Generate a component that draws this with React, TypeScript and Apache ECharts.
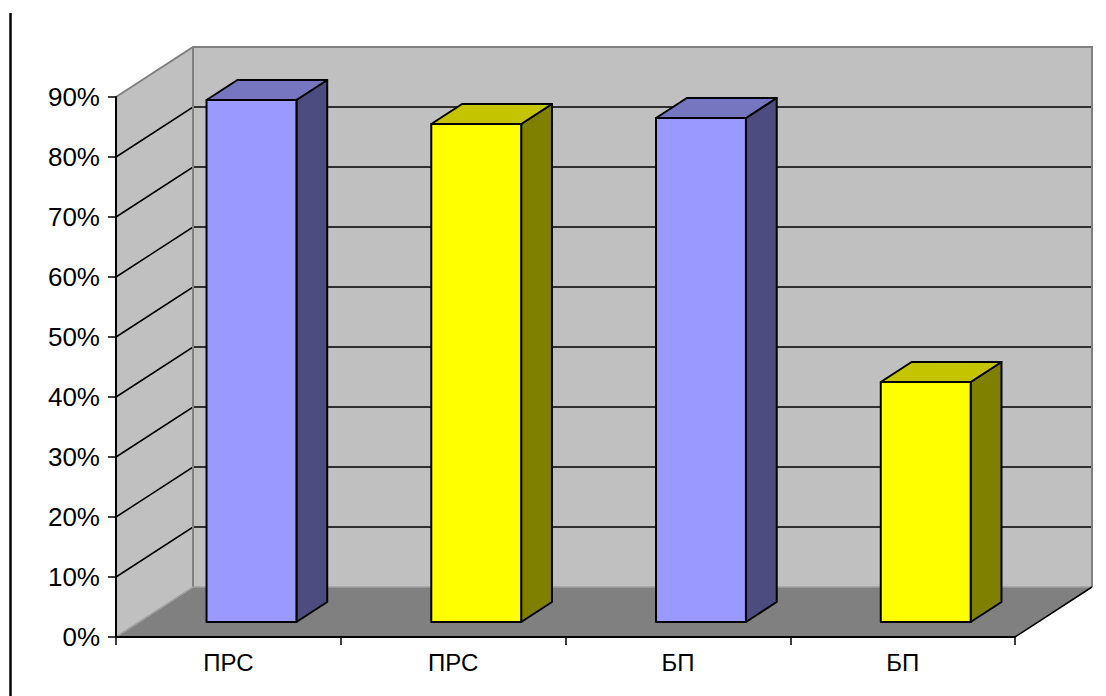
import React, { useEffect, useRef } from "react";
import * as echarts from "echarts";

const categories = ["ПРС", "ПРС", "БП", "БП"];
const values = [87, 83, 84, 40];
const faceColors = ["#9999FF", "#FFFF00", "#9999FF", "#FFFF00"];
const topColors = ["#7676C0", "#C4C400", "#7676C0", "#C4C400"];
const sideColors = ["#4C4C80", "#808000", "#4C4C80", "#808000"];
const yTicks = [0, 10, 20, 30, 40, 50, 60, 70, 80, 90];

// Depth of the 3D box (pixels) and where each column sits inside it.
const DX = 77;
const DY = 50;
const BAR_FRONT = 0.3;
const BAR_DEPTH = 0.4;
const BAR_WIDTH = 0.4;

const FONT = "'Liberation Sans', Arial, sans-serif";

export default function App() {
  const ref = useRef<HTMLDivElement>(null);

  useEffect(() => {
    if (!ref.current) return;
    const chart = echarts.init(ref.current, undefined, { renderer: "svg" });
    const yMax = yTicks[yTicks.length - 1];

    const frameRender = (params: any, api: any) => {
      const cs = params.coordSys;
      const x0 = cs.x;
      const x1 = cs.x + cs.width;
      const y0 = api.coord([0, 0])[1];
      const yT = api.coord([0, yMax])[1];
      const children: any[] = [];
      // side wall
      children.push({
        type: "polygon",
        shape: { points: [[x0, yT], [x0 + DX, yT - DY], [x0 + DX, y0 - DY], [x0, y0]] },
        style: { fill: "#C0C0C0", stroke: "none" },
      });
      // back wall
      children.push({
        type: "rect",
        shape: { x: x0 + DX, y: yT - DY, width: x1 - x0, height: y0 - yT },
        style: { fill: "#C0C0C0", stroke: "none" },
      });
      // floor
      children.push({
        type: "polygon",
        shape: { points: [[x0, y0], [x1, y0], [x1 + DX, y0 - DY], [x0 + DX, y0 - DY]] },
        style: { fill: "#808080", stroke: "none" },
      });
      // gridlines across side and back walls
      yTicks.forEach((t) => {
        if (t <= 0 || t >= yMax) return;
        const y = api.coord([0, t])[1];
        children.push({
          type: "polyline",
          shape: { points: [[x0, y], [x0 + DX, y - DY], [x1 + DX, y - DY]] },
          style: { stroke: "#000", lineWidth: 1.5, fill: "none" },
        });
      });
      // wall edges
      children.push({
        type: "polyline",
        shape: { points: [[x0, yT], [x0 + DX, yT - DY], [x1 + DX, yT - DY], [x1 + DX, y0 - DY]] },
        style: { stroke: "#808080", lineWidth: 2, fill: "none" },
      });
      children.push({
        type: "line",
        shape: { x1: x0 + DX, y1: yT - DY, x2: x0 + DX, y2: y0 - DY },
        style: { stroke: "#808080", lineWidth: 2 },
      });
      children.push({
        type: "polyline",
        shape: { points: [[x0, y0], [x0 + DX, y0 - DY], [x1 + DX, y0 - DY]] },
        style: { stroke: "#A0A0A0", lineWidth: 1.5, fill: "none" },
      });
      children.push({
        type: "line",
        shape: { x1: x1, y1: y0, x2: x1 + DX, y2: y0 - DY },
        style: { stroke: "#000", lineWidth: 1.5 },
      });
      return { type: "group", children };
    };

    const barRender = (params: any, api: any) => {
      const i = params.dataIndex;
      const base = api.coord([api.value(0), 0]);
      const top = api.coord([api.value(0), api.value(1)]);
      const w = api.size([1, 0])[0] * BAR_WIDTH;
      const fx = base[0] + BAR_FRONT * DX - w / 2;
      const fb = base[1] - BAR_FRONT * DY;
      const ft = top[1] - BAR_FRONT * DY;
      const dx = BAR_DEPTH * DX;
      const dy = BAR_DEPTH * DY;
      const stroke = { stroke: "#000", lineWidth: 2, lineJoin: "round" };
      return {
        type: "group",
        children: [
          {
            type: "polygon",
            shape: { points: [[fx + w, ft], [fx + w + dx, ft - dy], [fx + w + dx, fb - dy], [fx + w, fb]] },
            style: { fill: sideColors[i], ...stroke },
          },
          {
            type: "polygon",
            shape: { points: [[fx, ft], [fx + dx, ft - dy], [fx + w + dx, ft - dy], [fx + w, ft]] },
            style: { fill: topColors[i], ...stroke },
          },
          {
            type: "rect",
            shape: { x: fx, y: ft, width: w, height: fb - ft },
            style: { fill: faceColors[i], ...stroke },
          },
        ],
      };
    };

    chart.setOption({
      animation: false,
      backgroundColor: "#FFFFFF",
      graphic: [
        {
          type: "line",
          shape: { x1: 10.5, y1: 13, x2: 10.5, y2: 700 },
          style: { stroke: "#000", lineWidth: 2.5 },
        },
      ],
      grid: { left: 116, right: 91, top: 97, bottom: 59 },
      xAxis: {
        type: "category",
        data: categories,
        z: 10,
        axisLine: { show: true, lineStyle: { color: "#000", width: 2 } },
        axisTick: { show: true, length: 8, lineStyle: { color: "#000", width: 1.5 } },
        axisLabel: { color: "#000", fontSize: 24, fontFamily: FONT, margin: 13 },
        splitLine: { show: false },
      },
      yAxis: {
        type: "value",
        min: 0,
        max: yMax,
        interval: 10,
        z: 10,
        axisLine: { show: true, lineStyle: { color: "#000", width: 2 } },
        axisTick: { show: true, length: 8, lineStyle: { color: "#000", width: 1.5 } },
        axisLabel: { color: "#000", fontSize: 26, fontFamily: FONT, margin: 16, formatter: "{value}%" },
        splitLine: { show: false },
      },
      series: [
        {
          type: "custom",
          name: "frame",
          z: 1,
          silent: true,
          renderItem: frameRender,
          data: [[0, 0]],
        },
        {
          type: "custom",
          name: "values",
          z: 3,
          renderItem: barRender,
          encode: { x: 0, y: 1 },
          data: values.map((v, i) => [i, v]),
        },
      ],
    });

    return () => chart.dispose();
  }, []);

  return (
    <div
      ref={ref}
      style={{ position: "fixed", left: 0, top: 0, width: 1106, height: 696 }}
    />
  );
}
